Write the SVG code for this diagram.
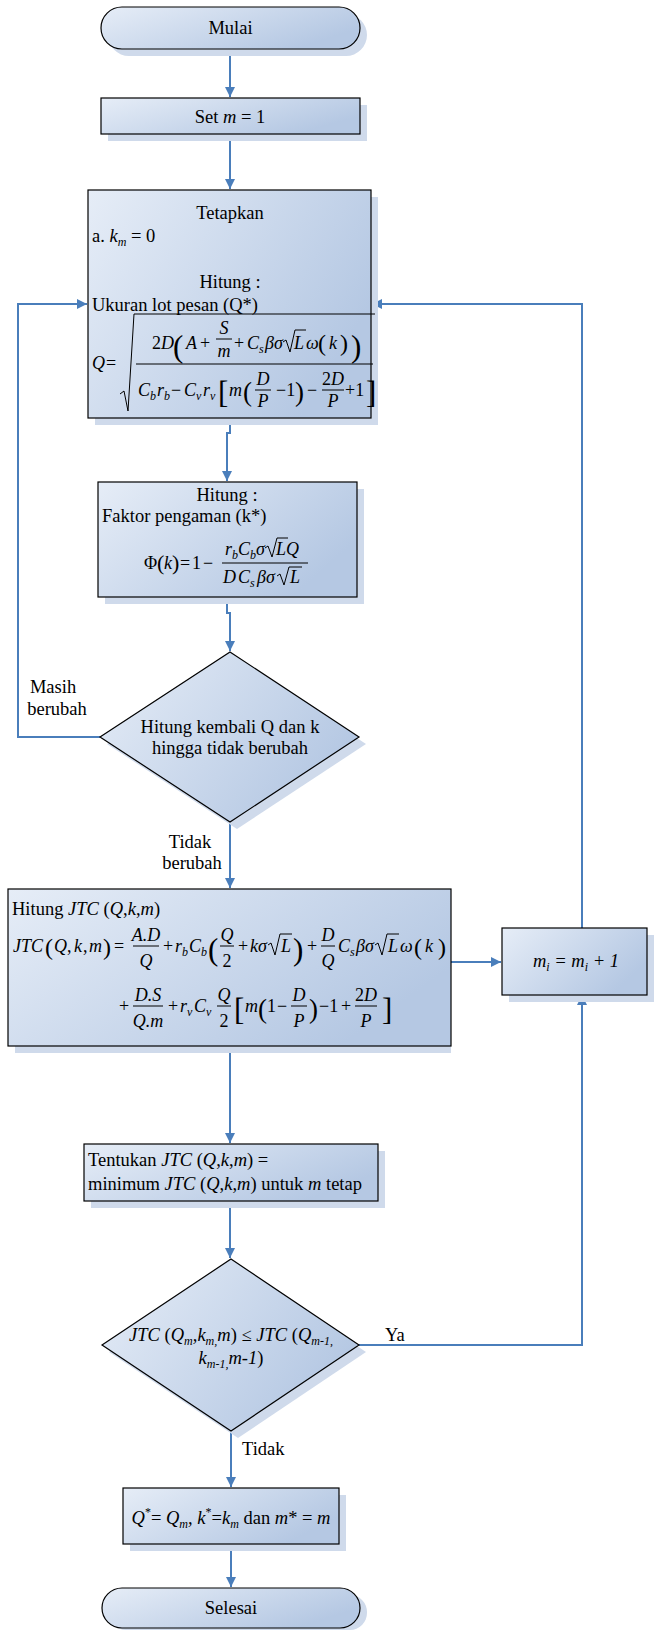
<svg xmlns="http://www.w3.org/2000/svg" width="656" height="1630" viewBox="0 0 656 1630">
<defs>
<linearGradient id="g" x1="0" y1="0" x2="1" y2="0.5">
<stop offset="0" stop-color="#e6edf7"/>
<stop offset="1" stop-color="#b5c8e3"/>
</linearGradient>
<marker id="a" viewBox="0 0 10 10" refX="10" refY="5" markerWidth="5" markerHeight="5" orient="auto" markerUnits="strokeWidth">
<path d="M0,0 L10,5 L0,10 z" fill="#4a7ebb"/>
</marker>
</defs>
<style>
.sh{fill:#cfdaeb;stroke:none}
.nd{fill:url(#g);stroke:#000;stroke-width:1.2}
.c{fill:none;stroke:#4a7ebb;stroke-width:2}
text{font-family:"Liberation Serif","Times New Roman",serif;font-size:18.5px;fill:#000}
.m{text-anchor:middle}
.i{font-style:italic}
.s{font-size:12px}
.f{font-size:18px}
.p{font-size:24px}
.b{font-size:31px}
.bb{font-size:27px}
.ln{stroke:#000;stroke-width:1;fill:none}
</style>
<rect width="656" height="1630" fill="#fff"/>

<g id="connectors">
<path class="c" d="M230,49 V97" marker-end="url(#a)"/>
<path class="c" d="M230,134 V189" marker-end="url(#a)"/>
<path class="c" d="M230,418 V433 H227 V481" marker-end="url(#a)"/>
<path class="c" d="M227,597 V613 H230 V651" marker-end="url(#a)"/>
<path class="c" d="M100,737 H18 V304 H87" marker-end="url(#a)"/>
<path class="c" d="M230,822 V888" marker-end="url(#a)"/>
<path class="c" d="M451,962 H501" marker-end="url(#a)"/>
<path class="c" d="M582,928 V304 H372" marker-end="url(#a)"/>
<path class="c" d="M230,1046 V1143" marker-end="url(#a)"/>
<path class="c" d="M230,1201 V1258" marker-end="url(#a)"/>
<path class="c" d="M359,1345 H582 V995" marker-end="url(#a)"/>
<path class="c" d="M231,1431 V1487" marker-end="url(#a)"/>
<path class="c" d="M231,1544 V1587" marker-end="url(#a)"/>
<text x="53" y="693" class="m">Masih</text>
<text x="57" y="715" class="m">berubah</text>
<text x="190" y="848" class="m">Tidak</text>
<text x="192" y="869" class="m">berubah</text>
<text x="385" y="1341">Ya</text>
<text x="242" y="1455">Tidak</text>
</g>

<g id="mulai">
<rect class="sh" x="108" y="14" width="259" height="42" rx="21"/>
<rect class="nd" x="101" y="7" width="259" height="42" rx="21"/>
<text x="230.5" y="34" class="m">Mulai</text>
</g>

<g id="set-m">
<rect class="sh" x="108" y="105" width="259" height="36"/>
<rect class="nd" x="101" y="98" width="259" height="36"/>
<text x="230" y="123" class="m">Set <tspan class="i">m</tspan> = 1</text>
</g>

<g id="tetapkan">
<rect class="sh" x="95" y="197" width="283" height="228"/>
<rect class="nd" x="88" y="190" width="283" height="228"/>
<text x="230" y="219" class="m">Tetapkan</text>
<text x="92" y="242">a. <tspan class="i">k</tspan><tspan class="i s" dy="4">m</tspan><tspan dy="-4"> = 0</tspan></text>
<text x="230" y="288" class="m">Hitung :</text>
<text x="92" y="311">Ukuran lot pesan (Q*)</text>
<text x="92" y="369" class="i f">Q</text><text x="106" y="369" class="f">=</text>
<path class="ln" d="M120,394 L124,391 L128,411 L134,314 H375"/>
<text x="152" y="349" class="f">2<tspan class="i">D</tspan></text>
<text x="173" y="357" class="b">(</text>
<text x="186" y="349" class="i f">A</text>
<text x="200" y="349" class="f">+</text>
<text x="224" y="334" class="i f m">S</text>
<line class="ln" x1="216" y1="339" x2="232" y2="339"/>
<text x="224" y="357" class="i f m">m</text>
<text x="234" y="349" class="f">+</text>
<text x="247" y="349" class="i f">C</text><text x="259" y="353" class="i s">s</text>
<text x="265" y="349" class="i f">βσ</text>
<path class="ln" d="M283,342 L286,340 L290,352 L295,330 H306"/>
<text x="294" y="349" class="i f">L</text>
<text x="306" y="349" class="i f">ω</text>
<text x="318" y="351" class="p">(</text>
<text x="329" y="349" class="i f">k</text>
<text x="340" y="351" class="p">)</text>
<text x="351" y="357" class="b">)</text>
<line class="ln" x1="136" y1="364" x2="373" y2="364"/>
<text x="138" y="396" class="i f">C</text><text x="150" y="400" class="i s">b</text>
<text x="157" y="396" class="i f">r</text><text x="164" y="400" class="i s">b</text>
<text x="171" y="396" class="f">−</text>
<text x="184" y="396" class="i f">C</text><text x="196" y="400" class="i s">v</text>
<text x="203" y="396" class="i f">r</text><text x="210" y="400" class="i s">v</text>
<text x="218" y="403" class="b">[</text>
<text x="229" y="396" class="i f">m</text>
<text x="243" y="401" class="bb">(</text>
<text x="263" y="385" class="i f m">D</text>
<line class="ln" x1="255" y1="390" x2="271" y2="390"/>
<text x="263" y="407" class="i f m">P</text>
<text x="276" y="396" class="f">−1</text>
<text x="295" y="401" class="bb">)</text>
<text x="307" y="396" class="f">−</text>
<text x="333" y="385" class="f m">2<tspan class="i">D</tspan></text>
<line class="ln" x1="322" y1="390" x2="344" y2="390"/>
<text x="333" y="407" class="i f m">P</text>
<text x="345" y="396" class="f">+1</text>
<text x="366" y="403" class="b">]</text>
</g>

<g id="hitung-k">
<rect class="sh" x="105" y="489" width="259" height="115"/>
<rect class="nd" x="98" y="482" width="259" height="115"/>
<text x="227" y="501" class="m">Hitung :</text>
<text x="102" y="522">Faktor pengaman (k*)</text>
<text x="144" y="569" class="f">Φ</text>
<text x="157" y="570" style="font-size:22px">(</text>
<text x="164" y="569" class="i f">k</text>
<text x="172" y="570" style="font-size:22px">)</text>
<text x="180" y="569" class="f">=</text>
<text x="192" y="569" class="f">1</text>
<text x="203" y="569" class="f">−</text>
<text x="225" y="555" class="i f">r</text><text x="232" y="559" class="i s">b</text>
<text x="238" y="555" class="i f">C</text><text x="250" y="559" class="i s">b</text>
<text x="256" y="555" class="i f">σ</text>
<path class="ln" d="M265,548 L268,546 L272,557 L277,538 H288"/>
<text x="276" y="555" class="i f">LQ</text>
<line class="ln" x1="222" y1="563" x2="308" y2="563"/>
<text x="223" y="583" class="i f">D</text>
<text x="238" y="583" class="i f">C</text><text x="250" y="587" class="i s">s</text>
<text x="257" y="583" class="i f">βσ</text>
<path class="ln" d="M277,576 L280,574 L284,585 L289,567 H302"/>
<text x="290" y="583" class="i f">L</text>
</g>

<g id="cek-qk">
<polygon class="sh" points="237,659 366,744 237,829 107,744"/>
<polygon class="nd" points="230,652 359,737 230,822 100,737"/>
<text x="230" y="733" class="m">Hitung kembali Q dan k</text>
<text x="230" y="754" class="m">hingga tidak berubah</text>
</g>

<g id="hitung-jtc">
<rect class="sh" x="15" y="896" width="436" height="157"/>
<rect class="nd" x="8" y="889" width="443" height="157"/>
<text x="12" y="915">Hitung <tspan class="i">JTC</tspan> (<tspan class="i">Q</tspan>,<tspan class="i">k</tspan>,<tspan class="i">m</tspan>)</text>
<text x="13" y="952" class="i f">JTC</text>
<text x="45" y="955" class="p">(</text>
<text x="54" y="952" class="i f">Q</text><text x="67" y="952" class="f">,</text>
<text x="74" y="952" class="i f">k</text><text x="83" y="952" class="f">,</text>
<text x="89" y="952" class="i f">m</text>
<text x="103" y="955" class="p">)</text>
<text x="114" y="952" class="f">=</text>
<text x="146" y="941" class="i f m">A.D</text>
<line class="ln" x1="133" y1="946" x2="159" y2="946"/>
<text x="146" y="967" class="i f m">Q</text>
<text x="163" y="952" class="f">+</text>
<text x="175" y="952" class="i f">r</text><text x="182" y="956" class="i s">b</text>
<text x="189" y="952" class="i f">C</text><text x="201" y="956" class="i s">b</text>
<text x="208" y="960" class="b">(</text>
<text x="227" y="941" class="i f m">Q</text>
<line class="ln" x1="220" y1="946" x2="234" y2="946"/>
<text x="227" y="967" class="f m">2</text>
<text x="238" y="952" class="f">+</text>
<text x="250" y="952" class="i f">kσ</text>
<path class="ln" d="M268,945 L271,943 L275,955 L280,934 H292"/>
<text x="281" y="952" class="i f">L</text>
<text x="293" y="960" class="b">)</text>
<text x="307" y="952" class="f">+</text>
<text x="328" y="941" class="i f m">D</text>
<line class="ln" x1="321" y1="946" x2="335" y2="946"/>
<text x="328" y="967" class="i f m">Q</text>
<text x="338" y="952" class="i f">C</text><text x="350" y="956" class="i s">s</text>
<text x="356" y="952" class="i f">βσ</text>
<path class="ln" d="M375,945 L378,943 L382,955 L387,934 H399"/>
<text x="388" y="952" class="i f">L</text>
<text x="400" y="952" class="i f">ω</text>
<text x="414" y="955" class="p">(</text>
<text x="425" y="952" class="i f">k</text>
<text x="438" y="955" class="p">)</text>
<text x="119" y="1012" class="f">+</text>
<text x="148" y="1001" class="i f m">D.S</text>
<line class="ln" x1="133" y1="1006" x2="163" y2="1006"/>
<text x="148" y="1027" class="i f m">Q.m</text>
<text x="168" y="1012" class="f">+</text>
<text x="180" y="1012" class="i f">r</text><text x="187" y="1016" class="i s">v</text>
<text x="194" y="1012" class="i f">C</text><text x="206" y="1016" class="i s">v</text>
<text x="224" y="1001" class="i f m">Q</text>
<line class="ln" x1="217" y1="1006" x2="231" y2="1006"/>
<text x="224" y="1027" class="f m">2</text>
<text x="234" y="1020" class="b">[</text>
<text x="245" y="1012" class="i f">m</text>
<text x="258" y="1018" class="bb">(</text>
<text x="267" y="1012" class="f">1</text>
<text x="277" y="1012" class="f">−</text>
<text x="299" y="1001" class="i f m">D</text>
<line class="ln" x1="291" y1="1006" x2="307" y2="1006"/>
<text x="299" y="1027" class="i f m">P</text>
<text x="309" y="1018" class="bb">)</text>
<text x="319" y="1012" class="f">−1</text>
<text x="341" y="1012" class="f">+</text>
<text x="366" y="1001" class="f m">2<tspan class="i">D</tspan></text>
<line class="ln" x1="355" y1="1006" x2="377" y2="1006"/>
<text x="366" y="1027" class="i f m">P</text>
<text x="382" y="1020" class="b">]</text>
</g>

<g id="m-increment">
<rect class="sh" x="509" y="935" width="145" height="67"/>
<rect class="nd" x="502" y="928" width="145" height="67"/>
<text x="576" y="967" class="m i"><tspan>m</tspan><tspan class="s" dy="4">i</tspan><tspan dy="-4"> = m</tspan><tspan class="s" dy="4">i</tspan><tspan dy="-4"> + 1</tspan></text>
</g>

<g id="tentukan">
<rect class="sh" x="91" y="1151" width="294" height="57"/>
<rect class="nd" x="84" y="1144" width="294" height="57"/>
<text x="88" y="1166">Tentukan <tspan class="i">JTC</tspan> (<tspan class="i">Q</tspan>,<tspan class="i">k</tspan>,<tspan class="i">m</tspan>) =</text>
<text x="88" y="1190">minimum <tspan class="i">JTC</tspan> (<tspan class="i">Q</tspan>,<tspan class="i">k</tspan>,<tspan class="i">m</tspan>) untuk <tspan class="i">m</tspan> tetap</text>
</g>

<g id="cek-jtc">
<polygon class="sh" points="238,1266 366,1352 238,1438 109,1352"/>
<polygon class="nd" points="231,1259 359,1345 231,1431 102,1345"/>
<text x="231" y="1341" class="m i">JTC <tspan font-style="normal">(</tspan>Q<tspan class="s" dy="4">m</tspan><tspan dy="-4">,k</tspan><tspan class="s" dy="4">m,</tspan><tspan dy="-4">m</tspan><tspan font-style="normal">) ≤ </tspan>JTC <tspan font-style="normal">(</tspan>Q<tspan class="s" dy="4">m-1,</tspan></text>
<text x="231" y="1364" class="m i">k<tspan class="s" dy="4">m-1,</tspan><tspan dy="-4">m-1</tspan><tspan font-style="normal">)</tspan></text>
</g>

<g id="hasil">
<rect class="sh" x="130" y="1495" width="216" height="56"/>
<rect class="nd" x="123" y="1488" width="216" height="56"/>
<text x="231" y="1524" class="m"><tspan class="i">Q</tspan><tspan class="s" dy="-8">*</tspan><tspan dy="8">= </tspan><tspan class="i">Q</tspan><tspan class="i s" dy="4">m</tspan><tspan dy="-4" class="i">,  k</tspan><tspan class="s" dy="-8">*</tspan><tspan dy="8">=</tspan><tspan class="i">k</tspan><tspan class="i s" dy="4">m</tspan><tspan dy="-4"> dan </tspan><tspan class="i">m</tspan>* = <tspan class="i">m</tspan></text>
</g>

<g id="selesai">
<rect class="sh" x="109" y="1595" width="258" height="35" rx="17"/>
<rect class="nd" x="102" y="1588" width="258" height="40" rx="20"/>
<text x="231" y="1614" class="m">Selesai</text>
</g>
</svg>
